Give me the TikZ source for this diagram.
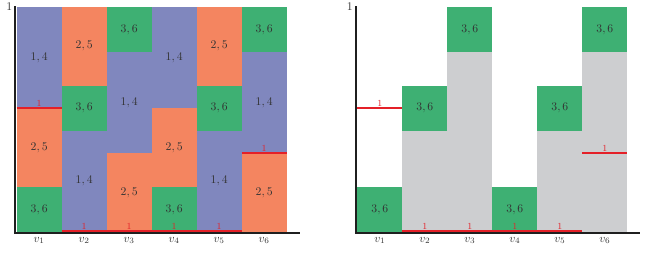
\documentclass[tikz,border=0pt]{standalone}
\usepackage{amsmath}
\usepackage{tikz}
\usetikzlibrary{positioning}

\definecolor{colb}{RGB}{128,135,190}
\definecolor{colo}{RGB}{244,133,96}
\definecolor{colg}{RGB}{62,176,115}
\definecolor{colgray}{RGB}{205,206,208}
\definecolor{redl}{RGB}{228,32,40}

\begin{document}
\begin{tikzpicture}[
x=1.35cm, y=6.75cm,
every node/.style={font=\normalsize, text=black!80},
axisline/.style={line width=1.7pt, draw=black!88},
redline/.style={line width=2pt, draw=redl},
redlab/.style={text=redl, font=\footnotesize, anchor=south, inner sep=0pt},
vlab/.style={anchor=north, inner sep=0pt},
toplab/.style={anchor=east, inner sep=0pt}
]

\useasboundingbox (-0.371,-0.089) rectangle (14.073,1.031);

% left panel: all blocks
\foreach \c/\lo/\hi/\k/\t in {1/0/0.2/g/{3,6}, 1/0.2/0.55/o/{2,5}, 1/0.55/1/b/{1,4},
2/0/0.45/b/{1,4}, 2/0.45/0.65/g/{3,6}, 2/0.65/1/o/{2,5},
3/0/0.35/o/{2,5}, 3/0.35/0.8/b/{1,4}, 3/0.8/1/g/{3,6},
4/0/0.2/g/{3,6}, 4/0.2/0.55/o/{2,5}, 4/0.55/1/b/{1,4},
5/0/0.45/b/{1,4}, 5/0.45/0.65/g/{3,6}, 5/0.65/1/o/{2,5},
6/0/0.35/o/{2,5}, 6/0.35/0.8/b/{1,4}, 6/0.8/1/g/{3,6}} {
\fill[col\k] (\c-1,\lo) rectangle (\c,\hi);
\node (L\c\k) at ({\c-0.5},{(\lo+\hi)/2}) {$\t$};
}

% right panel: grey below, green blocks
\begin{scope}[shift={(7.57,0)}]
\foreach \c/\hi in {2/0.45, 3/0.8, 5/0.45, 6/0.8} {
\fill[colgray] (\c-1,0) rectangle (\c,\hi);
}
\foreach \c/\lo/\hi in {1/0/0.2, 2/0.45/0.65, 3/0.8/1, 4/0/0.2, 5/0.45/0.65, 6/0.8/1} {
\fill[colg] (\c-1,\lo) rectangle (\c,\hi);
\node (R\c g) at ({\c-0.5},{(\lo+\hi)/2}) {$3,6$};
}
\end{scope}


% axes, red lines and labels of both panels
\foreach \s/\p in {0/L, 7.57/R} {
\begin{scope}[shift={(\s,0)}]
\draw[axisline] (-0.03,1.003) -- (-0.03,-0.006) -- (6.29,-0.006);
\node[toplab] (\p-top) at (-0.095,1) {$1$};

\draw[redline] (0,0.55) -- (1,0.55);
\draw[redline] (1,0.003) -- (5,0.003);
\draw[redline] (5,0.35) -- (6,0.35);

\node[redlab] (\p-r1) at (0.5,0.556) {$1$};
\foreach \c in {2,...,5} {
\node[redlab] (\p-r\c) at ({\c-0.5},0.009) {$1$};
}
\node[redlab] (\p-r6) at (5.5,0.356) {$1$};

\foreach \c in {1,...,6} {
\node[vlab] (\p-v\c) at ({\c-0.5},-0.022) {$v_{\c}$};
}
\end{scope}
}

\end{tikzpicture}
\end{document}
